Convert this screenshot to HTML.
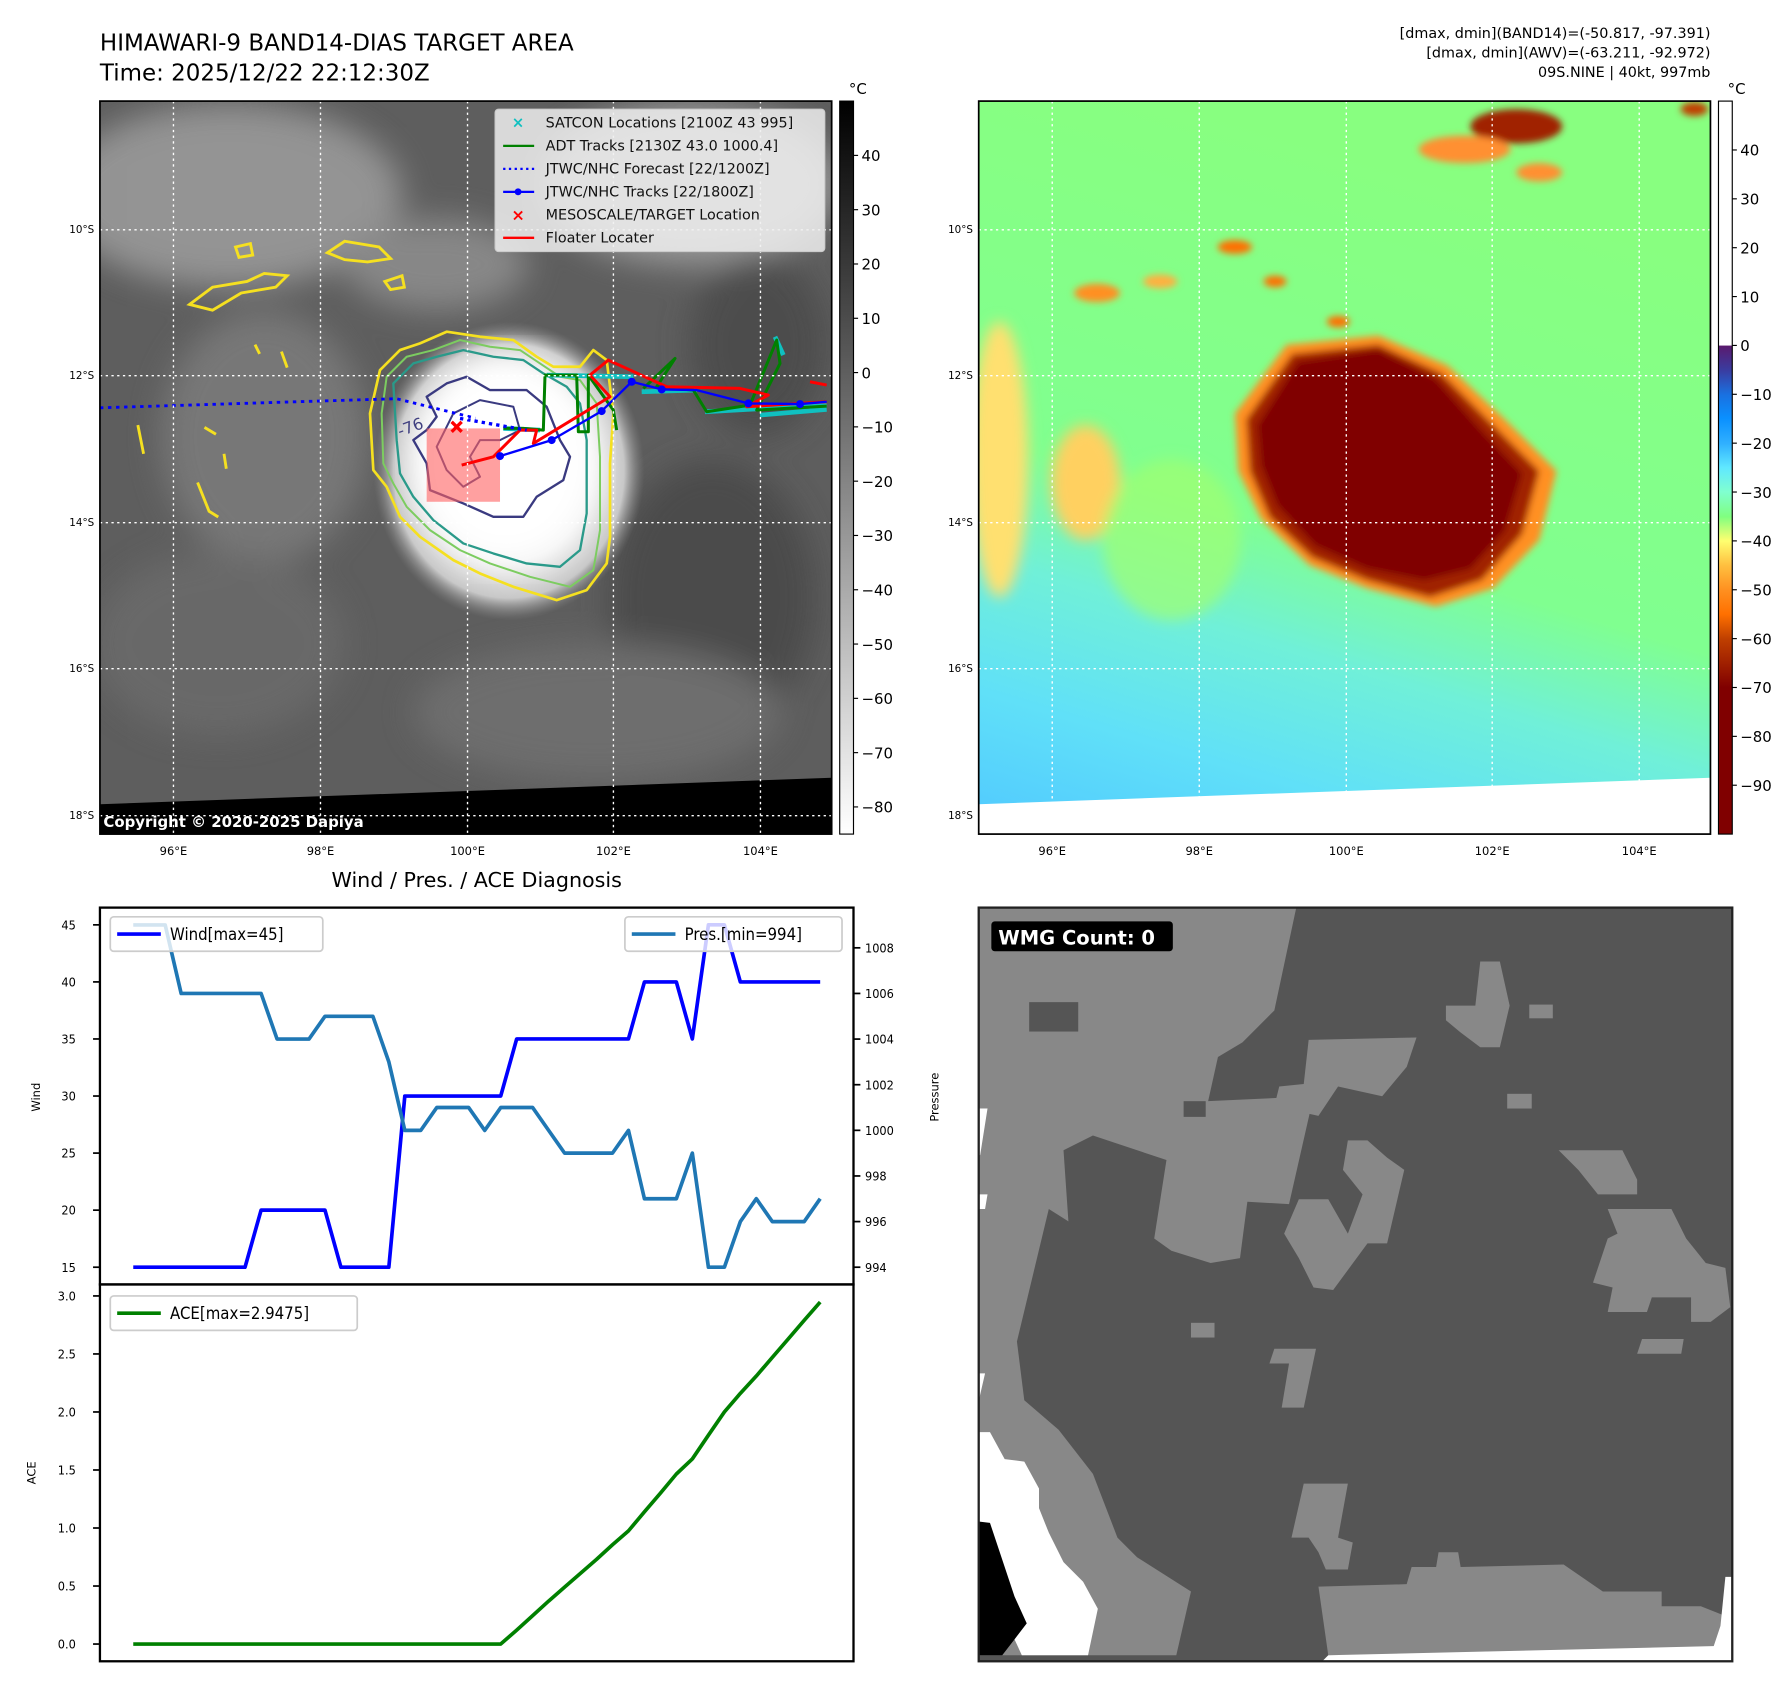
<!DOCTYPE html>
<html><head><meta charset="utf-8"><style>
html,body{margin:0;padding:0;background:#fff;}
svg{display:block;font-family:"DejaVu Sans","Liberation Sans",sans-serif;}
</style></head><body>
<svg id="root" width="1792" height="1690" viewBox="0 0 1560 1471" preserveAspectRatio="none" xmlns="http://www.w3.org/2000/svg">
<defs>
  <linearGradient id="gcbL" x1="0" y1="0" x2="0" y2="1"><stop offset="0" stop-color="#000"/><stop offset="1" stop-color="#fff"/></linearGradient>
  <linearGradient id="gcbR" x1="0" y1="0" x2="0" y2="1">
    <stop offset="0.333" stop-color="#ffffff"/><stop offset="0.334" stop-color="#5a1a6e"/>
    <stop offset="0.367" stop-color="#3a3ca0"/><stop offset="0.4" stop-color="#1a70e0"/>
    <stop offset="0.433" stop-color="#0a90ff"/><stop offset="0.467" stop-color="#30b0ff"/>
    <stop offset="0.5" stop-color="#60e8ff"/><stop offset="0.533" stop-color="#80ffd0"/>
    <stop offset="0.567" stop-color="#80ff80"/><stop offset="0.6" stop-color="#ffff70"/>
    <stop offset="0.633" stop-color="#ffc040"/><stop offset="0.667" stop-color="#ff9020"/>
    <stop offset="0.7" stop-color="#ff7000"/><stop offset="0.733" stop-color="#c04000"/>
    <stop offset="0.767" stop-color="#a02000"/><stop offset="0.8" stop-color="#800000"/>
    <stop offset="1" stop-color="#800000"/></linearGradient>
  <linearGradient id="gBgR" x1="0.3" y1="0" x2="0" y2="1">
    <stop offset="0" stop-color="#88ff80"/><stop offset="0.5" stop-color="#80ff90"/>
    <stop offset="0.65" stop-color="#70f0d8"/><stop offset="0.82" stop-color="#60e0f8"/><stop offset="1" stop-color="#50c8ff"/></linearGradient>
  <radialGradient id="gCloud" cx="0.5" cy="0.5" r="0.5">
    <stop offset="0" stop-color="#ffffff"/><stop offset="0.6" stop-color="#f0f0f0"/><stop offset="0.85" stop-color="#c8c8c8"/><stop offset="1" stop-color="#8a8a8a" stop-opacity="0"/></radialGradient>
  <filter id="blur6"><feGaussianBlur stdDeviation="6"/></filter>
  <filter id="blur3"><feGaussianBlur stdDeviation="3"/></filter>
  <filter id="blur14"><feGaussianBlur stdDeviation="14"/></filter>
  <clipPath id="clipL"><rect x="87" y="88" width="637" height="638"/></clipPath>
  <clipPath id="clipR"><rect x="852" y="88" width="637" height="638"/></clipPath>
  <clipPath id="clipB"><rect x="852" y="790" width="656" height="656"/></clipPath>
</defs>

<text x="87" y="44" font-size="20">HIMAWARI-9 BAND14-DIAS TARGET AREA</text>
<text x="87" y="70" font-size="20">Time: 2025/12/22 22:12:30Z</text>
<g font-size="12.5" text-anchor="end">
  <text x="1489" y="33">[dmax, dmin](BAND14)=(-50.817, -97.391)</text>
  <text x="1489" y="50">[dmax, dmin](AWV)=(-63.211, -92.972)</text>
  <text x="1489" y="67">09S.NINE | 40kt, 997mb</text>
</g>

<!-- LEFT MAP -->
<g clip-path="url(#clipL)">
  <rect x="87" y="88" width="637" height="638" fill="#5e5e5e"/>
  <g filter="url(#blur14)" opacity="0.9">
    <ellipse cx="200" cy="170" rx="150" ry="80" fill="#9a9a9a"/>
    <ellipse cx="600" cy="160" rx="130" ry="70" fill="#a0a0a0"/>
    <ellipse cx="230" cy="380" rx="90" ry="110" fill="#7a7a7a"/>
    <ellipse cx="190" cy="560" rx="110" ry="80" fill="#6a6a6a"/>
    <ellipse cx="620" cy="520" rx="90" ry="120" fill="#4a4a4a"/>
    <ellipse cx="520" cy="620" rx="160" ry="60" fill="#707070"/>
    <ellipse cx="660" cy="300" rx="60" ry="80" fill="#4c4c4c"/>
    <ellipse cx="380" cy="230" rx="80" ry="40" fill="#8c8c8c"/>
  </g>
  <ellipse cx="443" cy="410" rx="118" ry="130" fill="url(#gCloud)"/>
  <ellipse cx="440" cy="400" rx="80" ry="90" fill="#ffffff" filter="url(#blur14)"/>
  <g transform="translate(330.8,287.3) scale(0.2902)" fill="none" stroke-width="8" stroke-linejoin="round">
    <path d="M0,120 L60,60 120,40 200,5 300,20 400,30 470,80 520,110 600,110 640,60 680,90 700,250 690,400 690,620 680,700 620,780 530,810 400,770 300,730 220,690 120,620 60,560 20,470 -20,420 -30,250 Z" stroke="#f5e020"/>
    <path d="M20,140 L80,80 160,60 240,30 330,50 420,60 480,100 540,140 600,150 650,220 660,380 660,600 640,720 570,770 450,740 330,700 240,660 150,600 80,530 40,460 10,400 5,250 Z" stroke="#7ccc60" stroke-width="6"/>
    <path d="M40,160 L100,100 170,80 250,60 340,80 430,90 490,130 560,170 600,220 620,330 620,550 600,660 540,710 440,700 340,670 250,640 160,570 100,500 60,430 50,330 Z" stroke="#2a9a8a" stroke-width="7"/>
    <path d="M140,200 L200,160 260,140 330,180 440,180 500,230 540,330 570,380 550,450 470,500 430,560 340,560 250,520 150,480 140,400 100,330 140,300 170,260 Z" stroke="#3a3a80" stroke-width="7"/>
    <path d="M220,250 L300,210 400,230 420,300 360,330 300,330 270,380 300,440 250,470 200,420 170,350 Z" stroke="#3a3a80" stroke-width="6"/>
    <rect x="140" y="295" width="220" height="220" fill="#ff6060" fill-opacity="0.6" stroke="none"/>
    <text x="60" y="320" font-size="48" fill="#404080" stroke="none" transform="rotate(-20 60 320)">-76</text>
    <path d="M370,295 L480,300 M500,135 L760,140 M785,185 L950,180 M975,245 L1340,225 M1140,255 L1340,238 M1185,20 L1210,75" stroke="#10c0c0" stroke-width="14"/>
    <path d="M370,295 L430,295 490,300 495,135 590,135 595,305 625,305 625,135 700,240 710,300 M790,175 L885,85 830,170 940,180 980,245 1110,225 1190,30 1200,100 1130,240 1340,228" stroke="#008000" stroke-width="9"/>
    <path d="M245,405 L340,380 420,300 470,300 460,340 690,200 630,135 685,90 860,170 1080,175 1165,195 1100,230 1340,215 M1290,155 L1340,165" stroke="#ff0000" stroke-width="9"/>
    <path d="M360,378 L515,330 665,243 755,155 845,178 950,180 1105,220 1260,222 1340,215" stroke="#0000ff" stroke-width="7"/>
    <g fill="#0000ff" stroke="none"><circle cx="360" cy="378" r="12"/><circle cx="515" cy="330" r="12"/><circle cx="665" cy="243" r="12"/><circle cx="755" cy="155" r="12"/><circle cx="845" cy="178" r="12"/><circle cx="1105" cy="220" r="12"/><circle cx="1260" cy="222" r="12"/></g>
    <path d="M240,265 L440,300" stroke="#0000ff" stroke-width="10" stroke-dasharray="10 12"/>
    <path d="M215,275 L245,305 M245,275 L215,305" stroke="#ff0000" stroke-width="10"/>
  </g>
  <path d="M87,355 L345,347 L414,364" fill="none" stroke="#0000ff" stroke-width="2.5" stroke-dasharray="3 4"/>
  <g fill="none" stroke="#f5e020" stroke-width="2.5">
    <path d="M165,265 L185,250 215,245 230,238 250,240 240,250 210,255 185,270 Z"/>
    <path d="M285,220 L300,210 330,215 340,225 320,228 300,226 Z"/>
    <path d="M335,245 L350,240 352,250 340,252 Z"/>
    <path d="M205,215 L218,212 220,222 208,224 Z"/>
    <path d="M120,370 L125,395 M178,372 L188,378 M172,420 L182,445 190,450 M195,395 L197,408 M245,306 L250,320 M222,300 L226,308"/>
  </g>
  <polygon points="87,700 724,677 724,726 87,726" fill="#000"/>
  <g stroke="#fff" stroke-width="1.2" stroke-dasharray="2 3">
    <line x1="151" y1="88" x2="151" y2="726"/><line x1="279" y1="88" x2="279" y2="726"/><line x1="407" y1="88" x2="407" y2="726"/><line x1="534" y1="88" x2="534" y2="726"/><line x1="662" y1="88" x2="662" y2="726"/>
    <line x1="87" y1="200" x2="724" y2="200"/><line x1="87" y1="327" x2="724" y2="327"/><line x1="87" y1="455" x2="724" y2="455"/><line x1="87" y1="582" x2="724" y2="582"/><line x1="87" y1="710" x2="724" y2="710"/>
  </g>
  <text x="90" y="720" font-size="13" font-weight="bold" fill="#fff">Copyright © 2020-2025 Dapiya</text>
</g>
<rect x="87" y="88" width="637" height="638" fill="none" stroke="#000" stroke-width="1.5"/>

<g>
  <rect x="431" y="95" width="287" height="124" rx="3" fill="#eeeeee" fill-opacity="0.85" stroke="#ccc"/>
  <g font-size="12.5" fill="#111">
    <text x="475" y="111">SATCON Locations [2100Z 43 995]</text>
    <text x="475" y="131">ADT Tracks [2130Z 43.0 1000.4]</text>
    <text x="475" y="151">JTWC/NHC Forecast [22/1200Z]</text>
    <text x="475" y="171">JTWC/NHC Tracks [22/1800Z]</text>
    <text x="475" y="191">MESOSCALE/TARGET Location</text>
    <text x="475" y="211">Floater Locater</text>
  </g>
  <text x="451" y="111" font-size="13" fill="#10c0c0" text-anchor="middle" font-weight="bold">×</text>
  <line x1="438" y1="127" x2="465" y2="127" stroke="#008000" stroke-width="2"/>
  <line x1="438" y1="147" x2="465" y2="147" stroke="#0000ff" stroke-width="2" stroke-dasharray="2 3"/>
  <line x1="438" y1="167" x2="465" y2="167" stroke="#0000ff" stroke-width="2"/><circle cx="451" cy="167" r="3" fill="#0000ff"/>
  <text x="451" y="192" font-size="14" fill="#ff0000" text-anchor="middle" font-weight="bold">×</text>
  <line x1="438" y1="207" x2="465" y2="207" stroke="#ff0000" stroke-width="2"/>
</g>

<g font-size="10" fill="#000">
  <g text-anchor="middle">
    <text x="151" y="744">96°E</text><text x="279" y="744">98°E</text><text x="407" y="744">100°E</text><text x="534" y="744">102°E</text><text x="662" y="744">104°E</text>
    <text x="916" y="744">96°E</text><text x="1044" y="744">98°E</text><text x="1172" y="744">100°E</text><text x="1299" y="744">102°E</text><text x="1427" y="744">104°E</text>
  </g>
  <g text-anchor="end" font-size="9">
    <text x="82" y="203">10°S</text><text x="82" y="330">12°S</text><text x="82" y="458">14°S</text><text x="82" y="585">16°S</text><text x="82" y="713">18°S</text>
    <text x="847" y="203">10°S</text><text x="847" y="330">12°S</text><text x="847" y="458">14°S</text><text x="847" y="585">16°S</text><text x="847" y="713">18°S</text>
  </g>
</g>

<!-- left colorbar -->
<g>
  <rect x="731" y="88" width="12" height="638" fill="url(#gcbL)" stroke="#000" stroke-width="1"/>
  <text x="739" y="82" font-size="13">°C</text>
  <g id="cbLticks" font-size="13"></g>
</g>

<!-- RIGHT MAP -->
<g clip-path="url(#clipR)">
  <rect x="852" y="88" width="637" height="638" fill="url(#gBgR)"/>
  <g filter="url(#blur6)">
    <ellipse cx="870" cy="400" rx="25" ry="120" fill="#ffe070"/>
    <ellipse cx="945" cy="420" rx="30" ry="50" fill="#ffd060"/>
    <ellipse cx="1020" cy="470" rx="60" ry="70" fill="#a0ff70" opacity="0.7"/>
  </g>
  <g filter="url(#blur3)">
    <path d="M1075,360 L1120,300 1200,292 1260,318 1310,365 1355,410 1340,470 1300,512 1250,528 1190,512 1140,492 1098,452 1078,410 Z" fill="#ff9020"/>
    <path d="M1085,365 L1125,308 1200,300 1255,325 1300,370 1340,410 1325,465 1290,505 1245,520 1190,505 1142,485 1105,450 1088,410 Z" fill="#a02000"/>
    <path d="M1095,370 L1130,315 1200,305 1250,330 1290,375 1325,412 1310,462 1280,495 1240,505 1190,495 1145,475 1112,440 1098,405 Z" fill="#800000"/>
    <ellipse cx="1320" cy="110" rx="40" ry="15" fill="#a02000"/>
    <ellipse cx="1275" cy="130" rx="40" ry="12" fill="#ff9030"/>
    <ellipse cx="1340" cy="150" rx="20" ry="8" fill="#ff9030"/>
    <ellipse cx="1075" cy="215" rx="15" ry="6" fill="#ff7000"/>
    <ellipse cx="955" cy="255" rx="20" ry="8" fill="#ff9020"/>
    <ellipse cx="1010" cy="245" rx="15" ry="6" fill="#ffb040"/>
    <ellipse cx="1110" cy="245" rx="10" ry="5" fill="#ff7000"/>
    <ellipse cx="1165" cy="280" rx="10" ry="5" fill="#ff7000"/>
    <ellipse cx="1475" cy="95" rx="12" ry="6" fill="#c04000"/>
  </g>
  <polygon points="852,700 1489,677 1489,726 852,726" fill="#fff"/>
  <g stroke="#fff" stroke-width="1.2" stroke-dasharray="2 3">
    <line x1="916" y1="88" x2="916" y2="726"/><line x1="1044" y1="88" x2="1044" y2="726"/><line x1="1172" y1="88" x2="1172" y2="726"/><line x1="1299" y1="88" x2="1299" y2="726"/><line x1="1427" y1="88" x2="1427" y2="726"/>
    <line x1="852" y1="200" x2="1489" y2="200"/><line x1="852" y1="327" x2="1489" y2="327"/><line x1="852" y1="455" x2="1489" y2="455"/><line x1="852" y1="582" x2="1489" y2="582"/><line x1="852" y1="710" x2="1489" y2="710"/>
  </g>
</g>
<rect x="852" y="88" width="637" height="638" fill="none" stroke="#000" stroke-width="1.5"/>
<g>
  <rect x="1496" y="88" width="12" height="638" fill="url(#gcbR)" stroke="#000" stroke-width="1"/>
  <text x="1504" y="82" font-size="13">°C</text>
  <g id="cbRticks" font-size="13"></g>
</g>

<!-- WMG panel -->
<g clip-path="url(#clipB)">
  <rect x="852" y="790" width="656" height="656" fill="#555555"/>
  <g transform="translate(849,783.5) scale(0.4268)" fill="#888888">
    <path d="M-10,0 L658,0 610,225 545,290 495,320 475,410 690,400 640,620 555,615 540,730 480,740 400,715 365,690 390,530 240,480 180,510 190,655 150,630 85,900 100,1020 170,1080 240,1170 290,1300 330,1340 440,1410 410,1540 -10,1540 Z"/>
    <path d="M680,285 L900,280 880,340 830,400 740,380 700,440 610,420 620,380 670,375 Z"/>
    <path d="M960,215 L1020,215 1030,125 1070,125 1090,215 1070,300 1030,300 990,270 960,245 Z"/>
    <path d="M760,490 L800,490 840,525 875,550 840,700 800,700 730,795 690,790 660,730 630,680 660,610 720,610 760,680 790,600 750,550 Z"/>
    <path d="M1190,510 L1320,510 1350,570 1350,600 1270,600 1230,550 Z"/>
    <path d="M1290,630 L1420,630 1450,690 1490,740 1530,750 1540,830 1500,860 1460,860 1460,810 1380,810 1370,840 1290,840 1300,790 1260,780 1280,720 1290,690 1310,680 Z"/>
    <path d="M1360,895 L1445,895 1440,925 1350,925 Z"/>
    <path d="M610,915 L695,915 670,1035 625,1035 640,945 600,945 Z"/>
    <path d="M670,1190 L760,1190 740,1300 770,1310 760,1365 715,1365 700,1330 680,1300 645,1300 Z"/>
    <path d="M700,1400 L880,1395 890,1360 940,1360 945,1330 985,1330 990,1360 1200,1355 1280,1410 1400,1410 1400,1440 1480,1440 1530,1460 1520,1540 720,1540 Z"/>
    <rect x="1085" y="395" width="50" height="30"/><rect x="1130" y="213" width="48" height="28"/><rect x="440" y="862" width="48" height="30"/>
    <path d="M-10,1085 L30,1085 60,1140 100,1145 130,1200 130,1240 150,1290 180,1350 220,1390 250,1445 230,1540 95,1540 40,1420 -10,1260 Z" fill="#ffffff"/>
    <path d="M-10,1265 L30,1270 50,1330 80,1420 105,1475 55,1540 -10,1540 Z" fill="#000000"/>
    <path d="M0,425 L25,425 10,520 0,520 Z M0,600 L25,600 20,630 0,630 Z M0,965 L20,965 5,1030 0,1030 Z" fill="#ffffff"/>
    <path d="M1530,1380 L1560,1380 1560,1540 1500,1540 1520,1480 Z" fill="#ffffff"/>
    <rect x="110" y="208" width="100" height="60" fill="#555555"/>
    <rect x="425" y="410" width="45" height="32" fill="#555555"/>
    <path d="M720,1540 L1560,1520 1560,1560 700,1560 Z" fill="#ffffff"/>
  </g>
  <rect x="863" y="802" width="158" height="26" rx="3" fill="#000"/>
  <text x="869" y="822" font-size="17" font-weight="bold" fill="#fff">WMG Count: 0</text>
</g>
<rect x="852" y="790" width="656" height="656" fill="none" stroke="#222" stroke-width="2"/>

<!-- DIAGNOSIS CHART -->
<text x="415" y="772" font-size="18" text-anchor="middle">Wind / Pres. / ACE Diagnosis</text>
<g id="chart"></g>
<text x="35" y="955" font-size="10" text-anchor="middle" transform="rotate(-90 35 955)">Wind</text>
<text x="817" y="955" font-size="10" text-anchor="middle" transform="rotate(-90 817 955)">Pressure</text>
<text x="31" y="1282" font-size="10" text-anchor="middle" transform="rotate(-90 31 1282)">ACE</text>
</svg>

<script>
const wind = [15,15,15,15,15,15,15,15,20,20,20,20,20,15,15,15,15,30,30,30,30,30,30,30,35,35,35,35,35,35,35,35,40,40,40,35,45,45,40,40,40,40,40,40];
const pres = [1009,1009,1009,1006,1006,1006,1006,1006,1006,1004,1004,1004,1005,1005,1005,1005,1003,1000,1000,1001,1001,1001,1000,1001,1001,1001,1000,999,999,999,999,1000,997,997,997,999,994,994,996,997,996,996,996,997];
const ace = [0,0,0,0,0,0,0,0,0,0,0,0,0,0,0,0,0,0,0,0,0,0,0,0,0.12,0.245,0.37,0.49,0.61,0.73,0.855,0.975,1.14,1.30,1.465,1.595,1.80,2.0,2.16,2.31,2.47,2.63,2.79,2.9475];
const windTicks = [15,20,25,30,35,40,45];
const presTicks = [994,996,998,1000,1002,1004,1006,1008];
const aceTicks = [0.0,0.5,1.0,1.5,2.0,2.5,3.0];
const cbLeftTicks = [40,30,20,10,0,-10,-20,-30,-40,-50,-60,-70,-80];
const cbRightTicks = [40,30,20,10,0,-10,-20,-30,-40,-50,-60,-70,-80,-90];

const NS = 'http://www.w3.org/2000/svg';
const n = wind.length;
const xS = i => 116 + i * (714 - 116) / (n - 1);
const yWind = v => 1103 - (v - 15) * (1103 - 805) / 30;
const yPres = p => 1103 - (p - 994) * (1103 - 825) / 14;
const yAce = a => 1431 - a * (1431 - 1128) / 3;
const yCbL = v => 88 + (50 - v) * 638 / 135;
const yCbR = v => 88 + (50 - v) * 638 / 150;

function mk(tag, attrs, parent) {
  const e = document.createElementNS(NS, tag);
  for (const k in attrs) e.setAttribute(k, attrs[k]);
  parent.appendChild(e);
  return e;
}
const fmt = v => (v < 0 ? '\u2212' + Math.abs(v) : '' + v);

const cbL = document.getElementById('cbLticks');
cbLeftTicks.forEach(v => {
  const y = yCbL(v);
  const t = mk('line', {x1: 743, x2: 747, y1: y, y2: y, stroke: '#000'}, cbL);
  
  
  const tx = mk('text', {x: 750, y: y + 5}, cbL);
  
  
  tx.textContent = fmt(v);
});
const cbR = document.getElementById('cbRticks');
cbRightTicks.forEach(v => {
  const y = yCbR(v);
  const t = mk('line', {x1: 1508, x2: 1512, y1: y, y2: y, stroke: '#000'}, cbR);
  
  
  const tx = mk('text', {x: 1515, y: y + 5}, cbR);
  
  
  tx.textContent = fmt(v);
});

const ch = document.getElementById('chart');
const f1 = mk('rect', {x: 87, y: 790, width: 656, height: 328, fill: 'none', stroke: '#000', 'stroke-width': 2}, ch);


const f2 = mk('rect', {x: 87, y: 1118, width: 656, height: 328, fill: 'none', stroke: '#000', 'stroke-width': 2}, ch);



function tick(x1, x2, y, label, tx, anchor, name) {
  const l = mk('line', {x1: x1, x2: x2, y1: y, y2: y, stroke: '#000', 'stroke-width': 1.5}, ch);
  
  
  const t = mk('text', {x: tx, y: y + 4, 'font-size': 11, 'text-anchor': anchor, 'font-family': '"DejaVu Sans Condensed","Liberation Sans Narrow","Liberation Sans",sans-serif'}, ch);
  
  
  t.textContent = label;
}
windTicks.forEach(v => tick(81, 87, yWind(v), '' + v, 66, 'end', 'wind'));
presTicks.forEach(v => tick(743, 749, yPres(v), '' + v, 753, 'start', 'pressure'));
aceTicks.forEach(v => tick(81, 87, yAce(v), v.toFixed(1), 66, 'end', 'ace'));

function line(vals, yf, color, w, name) {
  const d = vals.map((v, i) => (i ? 'L' : 'M') + xS(i).toFixed(1) + ',' + yf(v).toFixed(1)).join(' ');
  const p = mk('path', {d: d, fill: 'none', stroke: color, 'stroke-width': w, 'stroke-linejoin': 'round'}, ch);
  
  
}
line(wind, yWind, '#0000ff', 3.2, 'wind-line');
line(pres, yPres, '#1f77b4', 3.2, 'pressure-line');
line(ace, yAce, '#008000', 3.2, 'ace-line');

function legend(x, y, w, color, label, name) {
  const g = mk('g', {}, ch);
  
  
  mk('rect', {x: x, y: y, width: w, height: 30, rx: 3, fill: '#fff', 'fill-opacity': 0.8, stroke: '#ccc', 'stroke-width': 1.5}, g);
  mk('line', {x1: x + 6, x2: x + 44, y1: y + 15, y2: y + 15, stroke: color, 'stroke-width': 3.2}, g);
  const t = mk('text', {x: x + 52, y: y + 20, 'font-size': 14.5, 'font-family': '"DejaVu Sans Condensed","Liberation Sans Narrow","Liberation Sans",sans-serif'}, g);
  t.textContent = label;
}
legend(96, 798, 185, '#0000ff', 'Wind[max=45]', 'wind-legend');
legend(544, 798, 189, '#1f77b4', 'Pres.[min=994]', 'pressure-legend');
legend(96, 1128, 215, '#008000', 'ACE[max=2.9475]', 'ace-legend');
</script>
</body></html>
